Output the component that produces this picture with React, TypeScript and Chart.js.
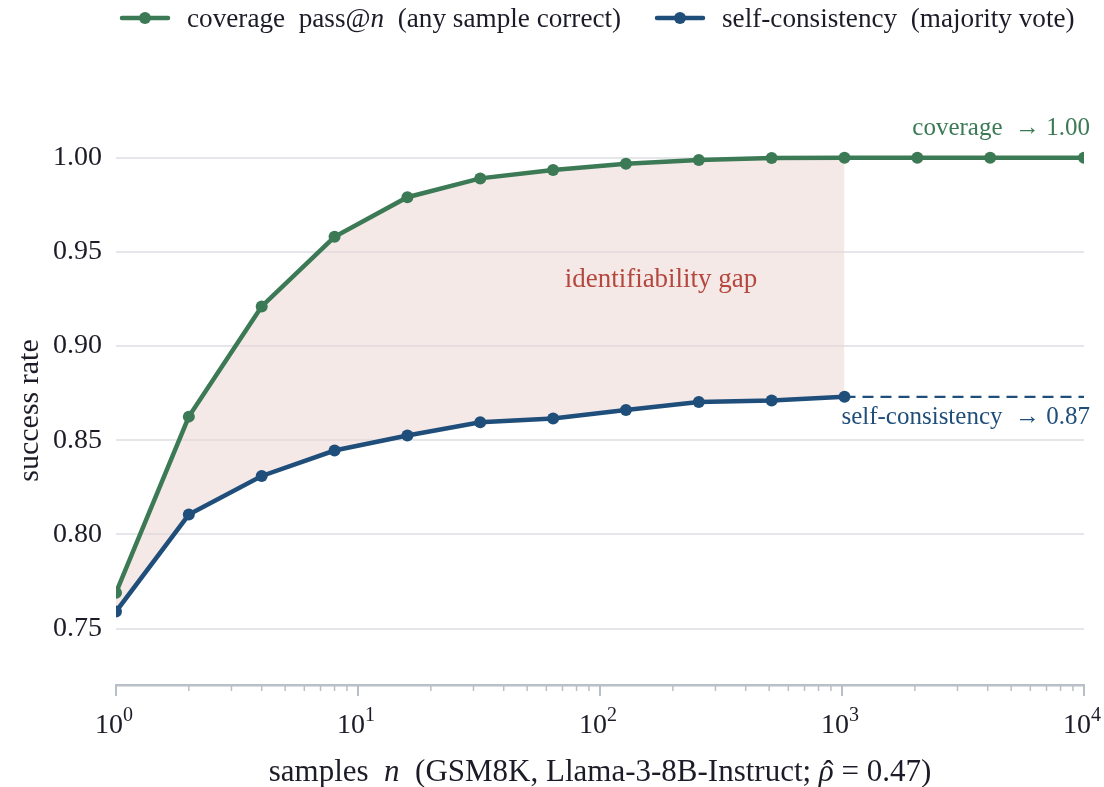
import React, { useEffect, useRef } from "react";
import { Chart, registerables } from "chart.js";

Chart.register(...registerables);

// ---- data ----
const samples = [1, 2, 4, 8, 16, 32, 64, 128, 256, 512, 1024, 2048, 4096, 10000];
const coverage = [0.769, 0.8625, 0.921, 0.958, 0.979, 0.989, 0.9935, 0.9968, 0.9988, 0.9998, 1.0, 1.0, 1.0, 1.0];
const selfConsistency = [0.759, 0.8105, 0.831, 0.8445, 0.8525, 0.8595, 0.8615, 0.866, 0.8703, 0.871, 0.873];
const scAsymptoteX = [1024, 10000];
const scAsymptote = 0.873;
const xMajorTicks = [0, 1, 2, 3, 4];
const yTicks = [0.75, 0.8, 0.85, 0.9, 0.95, 1.0];

const GREEN = "#3c7a56";
const BLUE = "#1f4e7a";
const FILL = "rgba(236, 212, 210, 0.5)";
const RED = "#b5483e";
const INK = "#1c1c28";
const AXIS = "#b9bfc7";
const GRID = "#e4e6ea";
const SERIF = "'Liberation Serif', 'Times New Roman', serif";

type Seg = { t: string; it?: boolean; size?: number; dy?: number; hat?: boolean };

function fontOf(s: Seg, size: number) {
  return `${s.it ? "italic " : ""}${s.size ?? size}px ${SERIF}`;
}

function segWidth(ctx: CanvasRenderingContext2D, segs: Seg[], size: number) {
  let w = 0;
  for (const s of segs) {
    ctx.font = fontOf(s, size);
    w += ctx.measureText(s.t).width;
  }
  return w;
}

function drawSegs(
  ctx: CanvasRenderingContext2D,
  segs: Seg[],
  x: number,
  y: number,
  size: number,
  color: string,
  align: "left" | "center" | "right"
) {
  const w = segWidth(ctx, segs, size);
  let cx = align === "left" ? x : align === "center" ? x - w / 2 : x - w;
  ctx.fillStyle = color;
  ctx.textAlign = "left";
  ctx.textBaseline = "alphabetic";
  for (const s of segs) {
    ctx.font = fontOf(s, size);
    const sw = ctx.measureText(s.t).width;
    ctx.fillText(s.t, cx, y + (s.dy ?? 0));
    if (s.hat) {
      ctx.font = `${size}px ${SERIF}`;
      ctx.textAlign = "center";
      ctx.fillText("\u02c6", cx + sw / 2 + 2, y + 1);
      ctx.textAlign = "left";
    }
    cx += sw;
  }
}

const overlay = {
  id: "overlay",
  afterDraw(chart: any) {
    const ctx: CanvasRenderingContext2D = chart.ctx;
    const xs = chart.scales.x;
    const ys = chart.scales.y;
    const area = chart.chartArea;
    ctx.save();

    // x ticks (major + minor)
    ctx.strokeStyle = AXIS;
    for (let d = 0; d <= 4; d++) {
      for (let m = 1; m <= 9; m++) {
        const v = m * Math.pow(10, d);
        if (v > 10000) break;
        const px = xs.getPixelForValue(v);
        const major = m === 1;
        ctx.lineWidth = major ? 2 : 1.5;
        ctx.beginPath();
        ctx.moveTo(px, area.bottom);
        ctx.lineTo(px, area.bottom + (major ? 11 : 6));
        ctx.stroke();
      }
    }
    // x tick labels
    for (const e of xMajorTicks) {
      const px = xs.getPixelForValue(Math.pow(10, e));
      drawSegs(ctx, [{ t: "10" }, { t: String(e), size: 20, dy: -12 }], px - 2, 733, 28, INK, "center");
    }

    // x title
    drawSegs(
      ctx,
      [
        { t: "samples  " },
        { t: "n", it: true },
        { t: "  (GSM8K, Llama-3-8B-Instruct; " },
        { t: "\u03c1", it: true, hat: true },
        { t: " = 0.47)" },
      ],
      (area.left + area.right) / 2 + 0,
      781,
      31,
      INK,
      "center"
    );

    // y title
    ctx.save();
    ctx.translate(38, (area.top + area.bottom) / 2 + 8);
    ctx.rotate(-Math.PI / 2);
    drawSegs(ctx, [{ t: "success rate" }], 0, 0, 30, INK, "center");
    ctx.restore();

    // annotations
    drawSegs(ctx, [{ t: "coverage  \u2192 1.00" }], 1090, ys.getPixelForValue(1.0) - 23, 25, GREEN, "right");
    drawSegs(ctx, [{ t: "self-consistency  \u2192 0.87" }], 1090, ys.getPixelForValue(scAsymptote) + 27, 25, BLUE, "right");
    drawSegs(ctx, [{ t: "identifiability gap" }], xs.getPixelForValue(100) + 61, ys.getPixelForValue(0.935) + 7, 27, RED, "center");

    // legend
    const legend = [
      { x: 122, label: [{ t: "coverage  pass@" }, { t: "n", it: true }, { t: "  (any sample correct)" }], color: GREEN },
      { x: 657, label: [{ t: "self-consistency  (majority vote)" }], color: BLUE },
    ];
    for (const l of legend) {
      ctx.strokeStyle = l.color;
      ctx.fillStyle = l.color;
      ctx.lineWidth = 4.5;
      ctx.lineCap = "round";
      ctx.beginPath();
      ctx.moveTo(l.x, 18);
      ctx.lineTo(l.x + 46, 18);
      ctx.stroke();
      ctx.beginPath();
      ctx.arc(l.x + 23, 18, 6, 0, Math.PI * 2);
      ctx.fill();
      drawSegs(ctx, l.label as Seg[], l.x + 65, 27, 27.2, INK, "left");
    }
    ctx.restore();
  },
};

export default function App() {
  const ref = useRef<HTMLCanvasElement>(null);
  useEffect(() => {
    if (!ref.current) return;
    const covPts = samples.map((x, i) => ({ x, y: coverage[i] }));
    const scPts = selfConsistency.map((y, i) => ({ x: samples[i], y }));
    const fillPts = selfConsistency.map((_, i) => ({ x: samples[i], y: coverage[i] }));
    const asymPts = scAsymptoteX.map((x) => ({ x, y: scAsymptote }));
    const chart = new Chart(ref.current, {
      type: "line",
      data: {
        datasets: [
          {
            data: covPts,
            borderColor: GREEN,
            backgroundColor: GREEN,
            borderWidth: 4.5,
            pointRadius: 6,
            pointBorderWidth: 0,
            tension: 0,
            clip: 0,
            fill: false,
          },
          {
            data: scPts,
            borderColor: BLUE,
            backgroundColor: BLUE,
            borderWidth: 4.5,
            pointRadius: 6,
            pointBorderWidth: 0,
            tension: 0,
            clip: 0,
            fill: false,
          },
          {
            data: asymPts,
            borderColor: BLUE,
            borderWidth: 2.2,
            borderDash: [11, 7],
            pointRadius: 0,
            tension: 0,
            clip: 0,
            fill: false,
          },
          {
            data: fillPts,
            borderWidth: 0,
            borderColor: "rgba(0,0,0,0)",
            backgroundColor: FILL,
            pointRadius: 0,
            tension: 0,
            clip: 0,
            fill: 1,
          },
        ] as any,
      },
      options: {
        responsive: false,
        animation: false,
        events: [],
        layout: { padding: { top: 120, right: 20, left: 0, bottom: 0 } },
        plugins: { legend: { display: false }, tooltip: { enabled: false } },
        scales: {
          x: {
            type: "logarithmic",
            min: 1,
            max: 10000,
            grid: { display: false },
            border: { display: true, color: AXIS, width: 2.5 },
            ticks: { display: false },
            afterFit: (s: any) => {
              s.height = 102;
            },
          },
          y: {
            type: "linear",
            min: 0.72,
            max: 1.02,
            afterBuildTicks: (s: any) => {
              s.ticks = yTicks.map((v) => ({ value: v }));
            },
            grid: { color: GRID, lineWidth: 2, drawTicks: false },
            border: { display: false },
            ticks: {
              padding: 14,
              color: INK,
              font: { family: SERIF, size: 28 },
              callback: (v: any) => Number(v).toFixed(2),
            },
            afterFit: (s: any) => {
              s.width = 116;
            },
          },
        },
      } as any,
      plugins: [overlay],
    });
    return () => chart.destroy();
  }, []);
  return (
    <div style={{ position: "fixed", left: 0, top: 0, width: 1104, height: 787, background: "#fff" }}>
      <canvas ref={ref} width={1104} height={787} style={{ display: "block" }} />
    </div>
  );
}
